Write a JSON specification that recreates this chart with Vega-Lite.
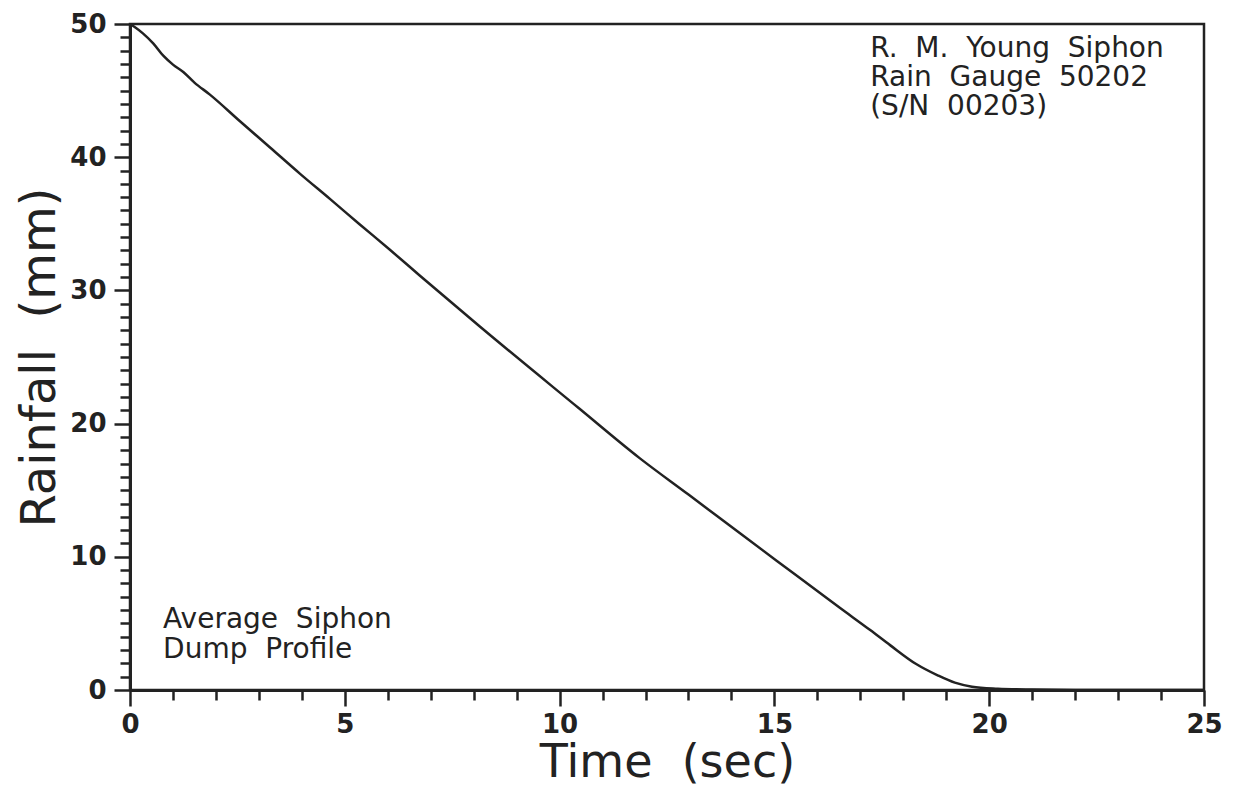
{
  "$schema": "https://vega.github.io/schema/vega-lite/v6.json",
  "width": 1074,
  "height": 666,
  "autosize": "none",
  "padding": {"left": 130, "top": 24, "right": 35, "bottom": 105},
  "background": "white",
  "config": {
    "view": {"stroke": "#222", "strokeWidth": 2.5},
    "font": "DejaVu Sans"
  },
  "layer": [
    {
      "data": {
        "values": [
          {"t": 0, "rain": 50},
          {"t": 0.1, "rain": 49.8},
          {"t": 0.3, "rain": 49.3},
          {"t": 0.54, "rain": 48.55},
          {"t": 0.78, "rain": 47.6},
          {"t": 1.0, "rain": 46.95},
          {"t": 1.24, "rain": 46.4},
          {"t": 1.5, "rain": 45.6},
          {"t": 1.86, "rain": 44.7},
          {"t": 2.56, "rain": 42.7},
          {"t": 3.26, "rain": 40.73},
          {"t": 3.96, "rain": 38.75},
          {"t": 4.66, "rain": 36.85},
          {"t": 5.35, "rain": 34.95},
          {"t": 6.05, "rain": 33.05},
          {"t": 6.75, "rain": 31.1},
          {"t": 8.15, "rain": 27.27},
          {"t": 10.45, "rain": 21.15},
          {"t": 11.87, "rain": 17.39},
          {"t": 13.0, "rain": 14.67},
          {"t": 14.2, "rain": 11.76},
          {"t": 15.5, "rain": 8.63},
          {"t": 16.53, "rain": 6.15},
          {"t": 17.23, "rain": 4.5},
          {"t": 17.7, "rain": 3.35},
          {"t": 18.3, "rain": 1.95},
          {"t": 18.8, "rain": 1.1},
          {"t": 19.2, "rain": 0.55},
          {"t": 19.6, "rain": 0.25},
          {"t": 20.2, "rain": 0.1},
          {"t": 21.0, "rain": 0.03},
          {"t": 22.0, "rain": 0},
          {"t": 25.0, "rain": 0}
        ]
      },
      "mark": {"type": "line", "color": "#222", "strokeWidth": 2.5, "interpolate": "monotone", "clip": true},
      "encoding": {
        "x": {
          "field": "t", "type": "quantitative",
          "scale": {"domain": [0, 25], "nice": false, "zero": false},
          "axis": {
            "title": "Time\u00a0\u00a0(sec)",
            "titleFont": "DejaVu Sans", "titleFontSize": 46, "titleFontWeight": "normal", "titleColor": "#222",
            "titlePadding": 3,
            "tickCount": 100,
            "format": "d",
            "values": [0,1,2,3,4,5,6,7,8,9,10,11,12,13,14,15,16,17,18,19,20,21,22,23,24,25],
            "labelExpr": "datum.value % 5 === 0 ? datum.label : ''",
            "labelFont": "DejaVu Sans", "labelFontSize": 26, "labelFontWeight": "bold", "labelColor": "#222",
            "labelPadding": 5, "labelOverlap": false, "labelFlush": false,
            "tickSize": {"condition": {"test": "datum.value % 5 === 0", "value": 16}, "value": 10},
            "tickWidth": 2.5, "tickColor": "#222",
            "domainColor": "#222", "domainWidth": 3,
            "grid": false
          }
        },
        "y": {
          "field": "rain", "type": "quantitative",
          "scale": {"domain": [0, 50], "nice": false},
          "axis": {
            "title": "Rainfall\u00a0\u00a0(mm)",
            "titleFont": "DejaVu Sans", "titleFontSize": 48, "titleFontWeight": "normal", "titleColor": "#222",
            "titlePadding": 5,
            "tickCount": 100,
            "format": "d",
            "values": [0,1,2,3,4,5,6,7,8,9,10,11,12,13,14,15,16,17,18,19,20,21,22,23,24,25,26,27,28,29,30,31,32,33,34,35,36,37,38,39,40,41,42,43,44,45,46,47,48,49,50],
            "labelExpr": "datum.value % 10 === 0 ? datum.label : ''",
            "labelFont": "DejaVu Sans", "labelFontSize": 26, "labelFontWeight": "bold", "labelColor": "#222",
            "labelPadding": 8, "labelOverlap": false, "labelFlush": false,
            "tickSize": {"condition": {"test": "datum.value % 10 === 0", "value": 16}, "value": 10},
            "tickWidth": 2.5, "tickColor": "#222",
            "domainColor": "#222", "domainWidth": 3,
            "grid": false
          }
        }
      }
    },
    {
      "data": {"values": [{"note": "top"}]},
      "mark": {"type": "text", "align": "left", "baseline": "alphabetic", "font": "DejaVu Sans", "fontSize": 28, "lineHeight": 29, "color": "#222"},
      "encoding": {
        "x": {"datum": 17.23, "type": "quantitative"},
        "y": {"datum": 47.5, "type": "quantitative"},
        "text": {"value": ["R.\u00a0\u00a0M.\u00a0\u00a0Young\u00a0\u00a0Siphon", "Rain\u00a0\u00a0Gauge\u00a0\u00a050202", "(S/N\u00a0\u00a000203)"]}
      }
    },
    {
      "data": {"values": [{"note": "bottom"}]},
      "mark": {"type": "text", "align": "left", "baseline": "alphabetic", "font": "DejaVu Sans", "fontSize": 28, "lineHeight": 30, "color": "#222"},
      "encoding": {
        "x": {"datum": 0.77, "type": "quantitative"},
        "y": {"datum": 4.65, "type": "quantitative"},
        "text": {"value": ["Average\u00a0\u00a0Siphon", "Dump\u00a0\u00a0Profile"]}
      }
    }
  ]
}
